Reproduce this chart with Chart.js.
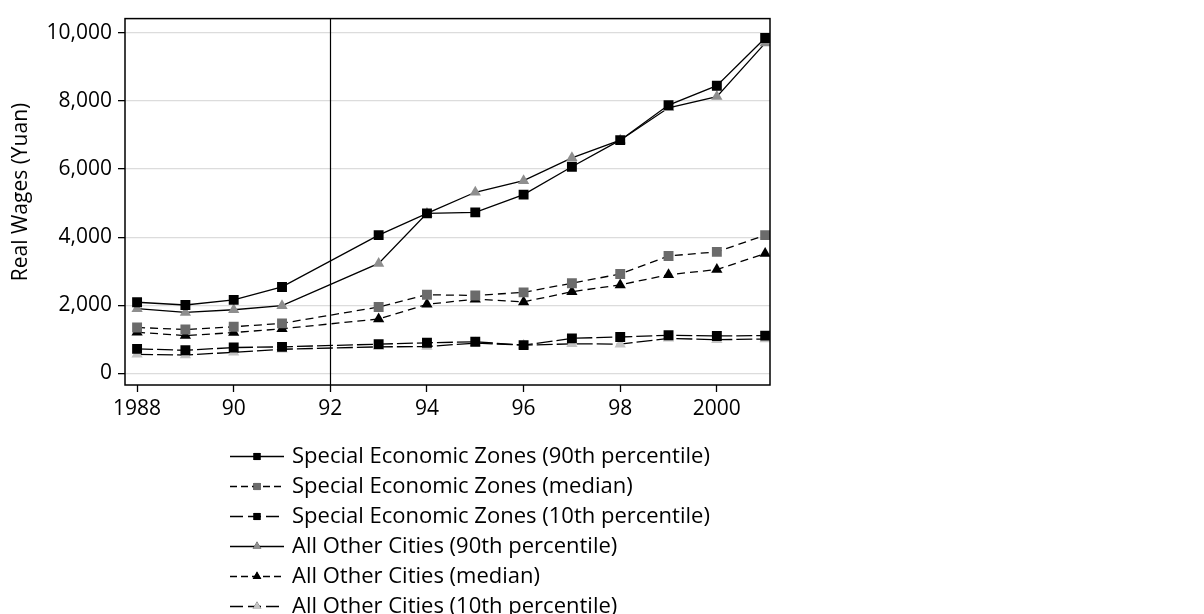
<!DOCTYPE html>
<html>
<head>
<meta charset="utf-8">
<script src="https://cdn.jsdelivr.net/npm/chart.js@4/dist/chart.umd.min.js"></script>
<style>
  html, body { margin: 0; padding: 0; background: #fff; }
</style>
</head>
<body>
<canvas id="wageChart" width="1204" height="614"></canvas>
<script>
// Years with data (no 1992 observation)
const years = [1988, 1989, 1990, 1991, 1993, 1994, 1995, 1996, 1997, 1998, 1999, 2000, 2001];

const sez90 = [2090, 2010, 2160, 2540, 4060, 4700, 4730, 5250, 6070, 6850, 7880, 8450, 9850];
const sezMedian = [1350, 1290, 1370, 1470, 1950, 2310, 2290, 2380, 2650, 2920, 3450, 3570, 4060];
const sez10 = [720, 680, 760, 780, 860, 900, 930, 830, 1030, 1070, 1120, 1100, 1110];
const other90 = [1900, 1790, 1870, 1990, 3230, 4700, 5320, 5660, 6330, 6850, 7800, 8130, 9700];
const otherMedian = [1210, 1110, 1200, 1310, 1600, 2030, 2180, 2100, 2400, 2600, 2900, 3050, 3520];
const other10 = [560, 540, 620, 710, 780, 790, 890, 830, 870, 860, 1030, 990, 1010];

const xTicks = [1988, 1990, 1992, 1994, 1996, 1998, 2000];
const yTicks = [0, 2000, 4000, 6000, 8000, 10000];
const markerYear = 1992;
const yTitle = "Real Wages (Yuan)";

const seriesLabels = [
  "Special Economic Zones (90th percentile)",
  "Special Economic Zones (median)",
  "Special Economic Zones (10th percentile)",
  "All Other Cities (90th percentile)",
  "All Other Cities (median)",
  "All Other Cities (10th percentile)",
];

const FONT = "'Open Sans'";

function toPoints(values) {
  return values.map((v, i) => ({ x: years[i], y: v }));
}

function makeSeries(label, values, style, color, dash, legendDash) {
  return {
    label: label,
    data: toPoints(values),
    borderColor: "#000",
    borderWidth: 1.3,
    borderDash: dash,
    legendDash: legendDash,
    pointStyle: style,
    pointRadius: style === "rect" ? 7 : 6.5,
    pointBackgroundColor: color,
    pointBorderColor: color,
    pointBorderWidth: 0,
    tension: 0,
    fill: false,
  };
}

const datasets = [
  makeSeries(seriesLabels[0], sez90, "rect", "#000", [], []),
  makeSeries(seriesLabels[1], sezMedian, "rect", "#6b6b6b", [8, 5], [7, 4]),
  makeSeries(seriesLabels[2], sez10, "rect", "#000", [16, 4], [13, 5]),
  makeSeries(seriesLabels[3], other90, "triangle", "#8e8e8e", [], []),
  makeSeries(seriesLabels[4], otherMedian, "triangle", "#000", [8, 5], [7, 4]),
  makeSeries(seriesLabels[5], other10, "triangle", "#c4c4c4", [16, 4], [13, 5]),
];

// Frame around plot, 1992 marker line, y title and legend drawn below
const framePlugin = {
  id: "frameAndLegend",
  afterDatasetsDraw(chart) {
    const ctx = chart.ctx;
    const area = chart.chartArea;
    const xScale = chart.scales.x;
    ctx.save();
    ctx.strokeStyle = "#000";
    ctx.lineWidth = 1.5;
    ctx.setLineDash([]);
    ctx.strokeRect(area.left, area.top, area.right - area.left, area.bottom - area.top);
    const xm = Math.round(xScale.getPixelForValue(markerYear)) + 0.5;
    ctx.lineWidth = 1.2;
    ctx.beginPath();
    ctx.moveTo(xm, area.top);
    ctx.lineTo(xm, area.bottom);
    ctx.stroke();
    ctx.restore();
  },
  afterDraw(chart) {
    const ctx = chart.ctx;
    ctx.save();
    // rotated y-axis title
    ctx.save();
    ctx.translate(21, 192);
    ctx.rotate(-Math.PI / 2);
    ctx.fillStyle = "#000";
    ctx.font = "21px " + FONT;
    ctx.textAlign = "center";
    ctx.textBaseline = "middle";
    ctx.fillText(yTitle, 0, 0);
    ctx.restore();

    const x0 = 230, x1 = 284, xm = 257;
    chart.data.datasets.forEach((ds, i) => {
      const y = 456.5 + i * 30;
      ctx.strokeStyle = "#000";
      ctx.lineWidth = 1.3;
      ctx.setLineDash(ds.legendDash);
      ctx.beginPath();
      ctx.moveTo(x0, y);
      ctx.lineTo(x1, y);
      ctx.stroke();
      ctx.setLineDash([]);
      Chart.helpers.drawPoint(ctx, {
        pointStyle: ds.pointStyle,
        radius: ds.pointStyle === "rect" ? 5 : 5,
        borderWidth: 0,
      }, xm, y);
      ctx.fillStyle = ds.pointBackgroundColor;
      ctx.fill();
      ctx.fillStyle = "#000";
      ctx.font = "22px " + FONT;
      ctx.textBaseline = "middle";
      ctx.textAlign = "left";
      ctx.fillText(ds.label, 292, y);
    });
    ctx.restore();
  },
};

const ctx = document.getElementById("wageChart").getContext("2d");
new Chart(ctx, {
  type: "line",
  data: { datasets: datasets },
  options: {
    responsive: false,
    animation: false,
    layout: {
      padding: { left: 0, right: 434, top: 15, bottom: 194 },
    },
    plugins: {
      legend: { display: false },
      tooltip: { enabled: false },
    },
    scales: {
      x: {
        type: "linear",
        min: 1987.75,
        max: 2001.1,
        afterBuildTicks: (scale) => {
          scale.ticks = xTicks.map((v) => ({ value: v }));
        },
        afterFit: (scale) => {
          scale.height = 35;
        },
        grid: {
          display: true,
          drawOnChartArea: false,
          drawTicks: true,
          tickLength: 7,
          tickColor: "#000",
          tickWidth: 1.3,
        },
        border: { display: false },
        ticks: {
          color: "#000",
          font: { family: FONT, size: 21 },
          padding: 4,
          maxRotation: 0,
          callback: (v) => (v === 1988 || v === 2000 ? String(v) : String(v).slice(2)),
        },
      },
      y: {
        type: "linear",
        min: -340,
        max: 10420,
        afterBuildTicks: (scale) => {
          scale.ticks = yTicks.map((v) => ({ value: v }));
        },
        afterFit: (scale) => {
          scale.width = 125;
        },
        grid: {
          color: "#dcdcdc",
          lineWidth: 1.3,
          drawTicks: true,
          tickLength: 7,
          tickColor: "#000",
        },
        border: { display: false },
        ticks: {
          color: "#000",
          font: { family: FONT, size: 21 },
          padding: 6,
          callback: (v) => v.toLocaleString("en-US"),
        },
      },
    },
  },
  plugins: [framePlugin],
});
</script>
</body>
</html>
